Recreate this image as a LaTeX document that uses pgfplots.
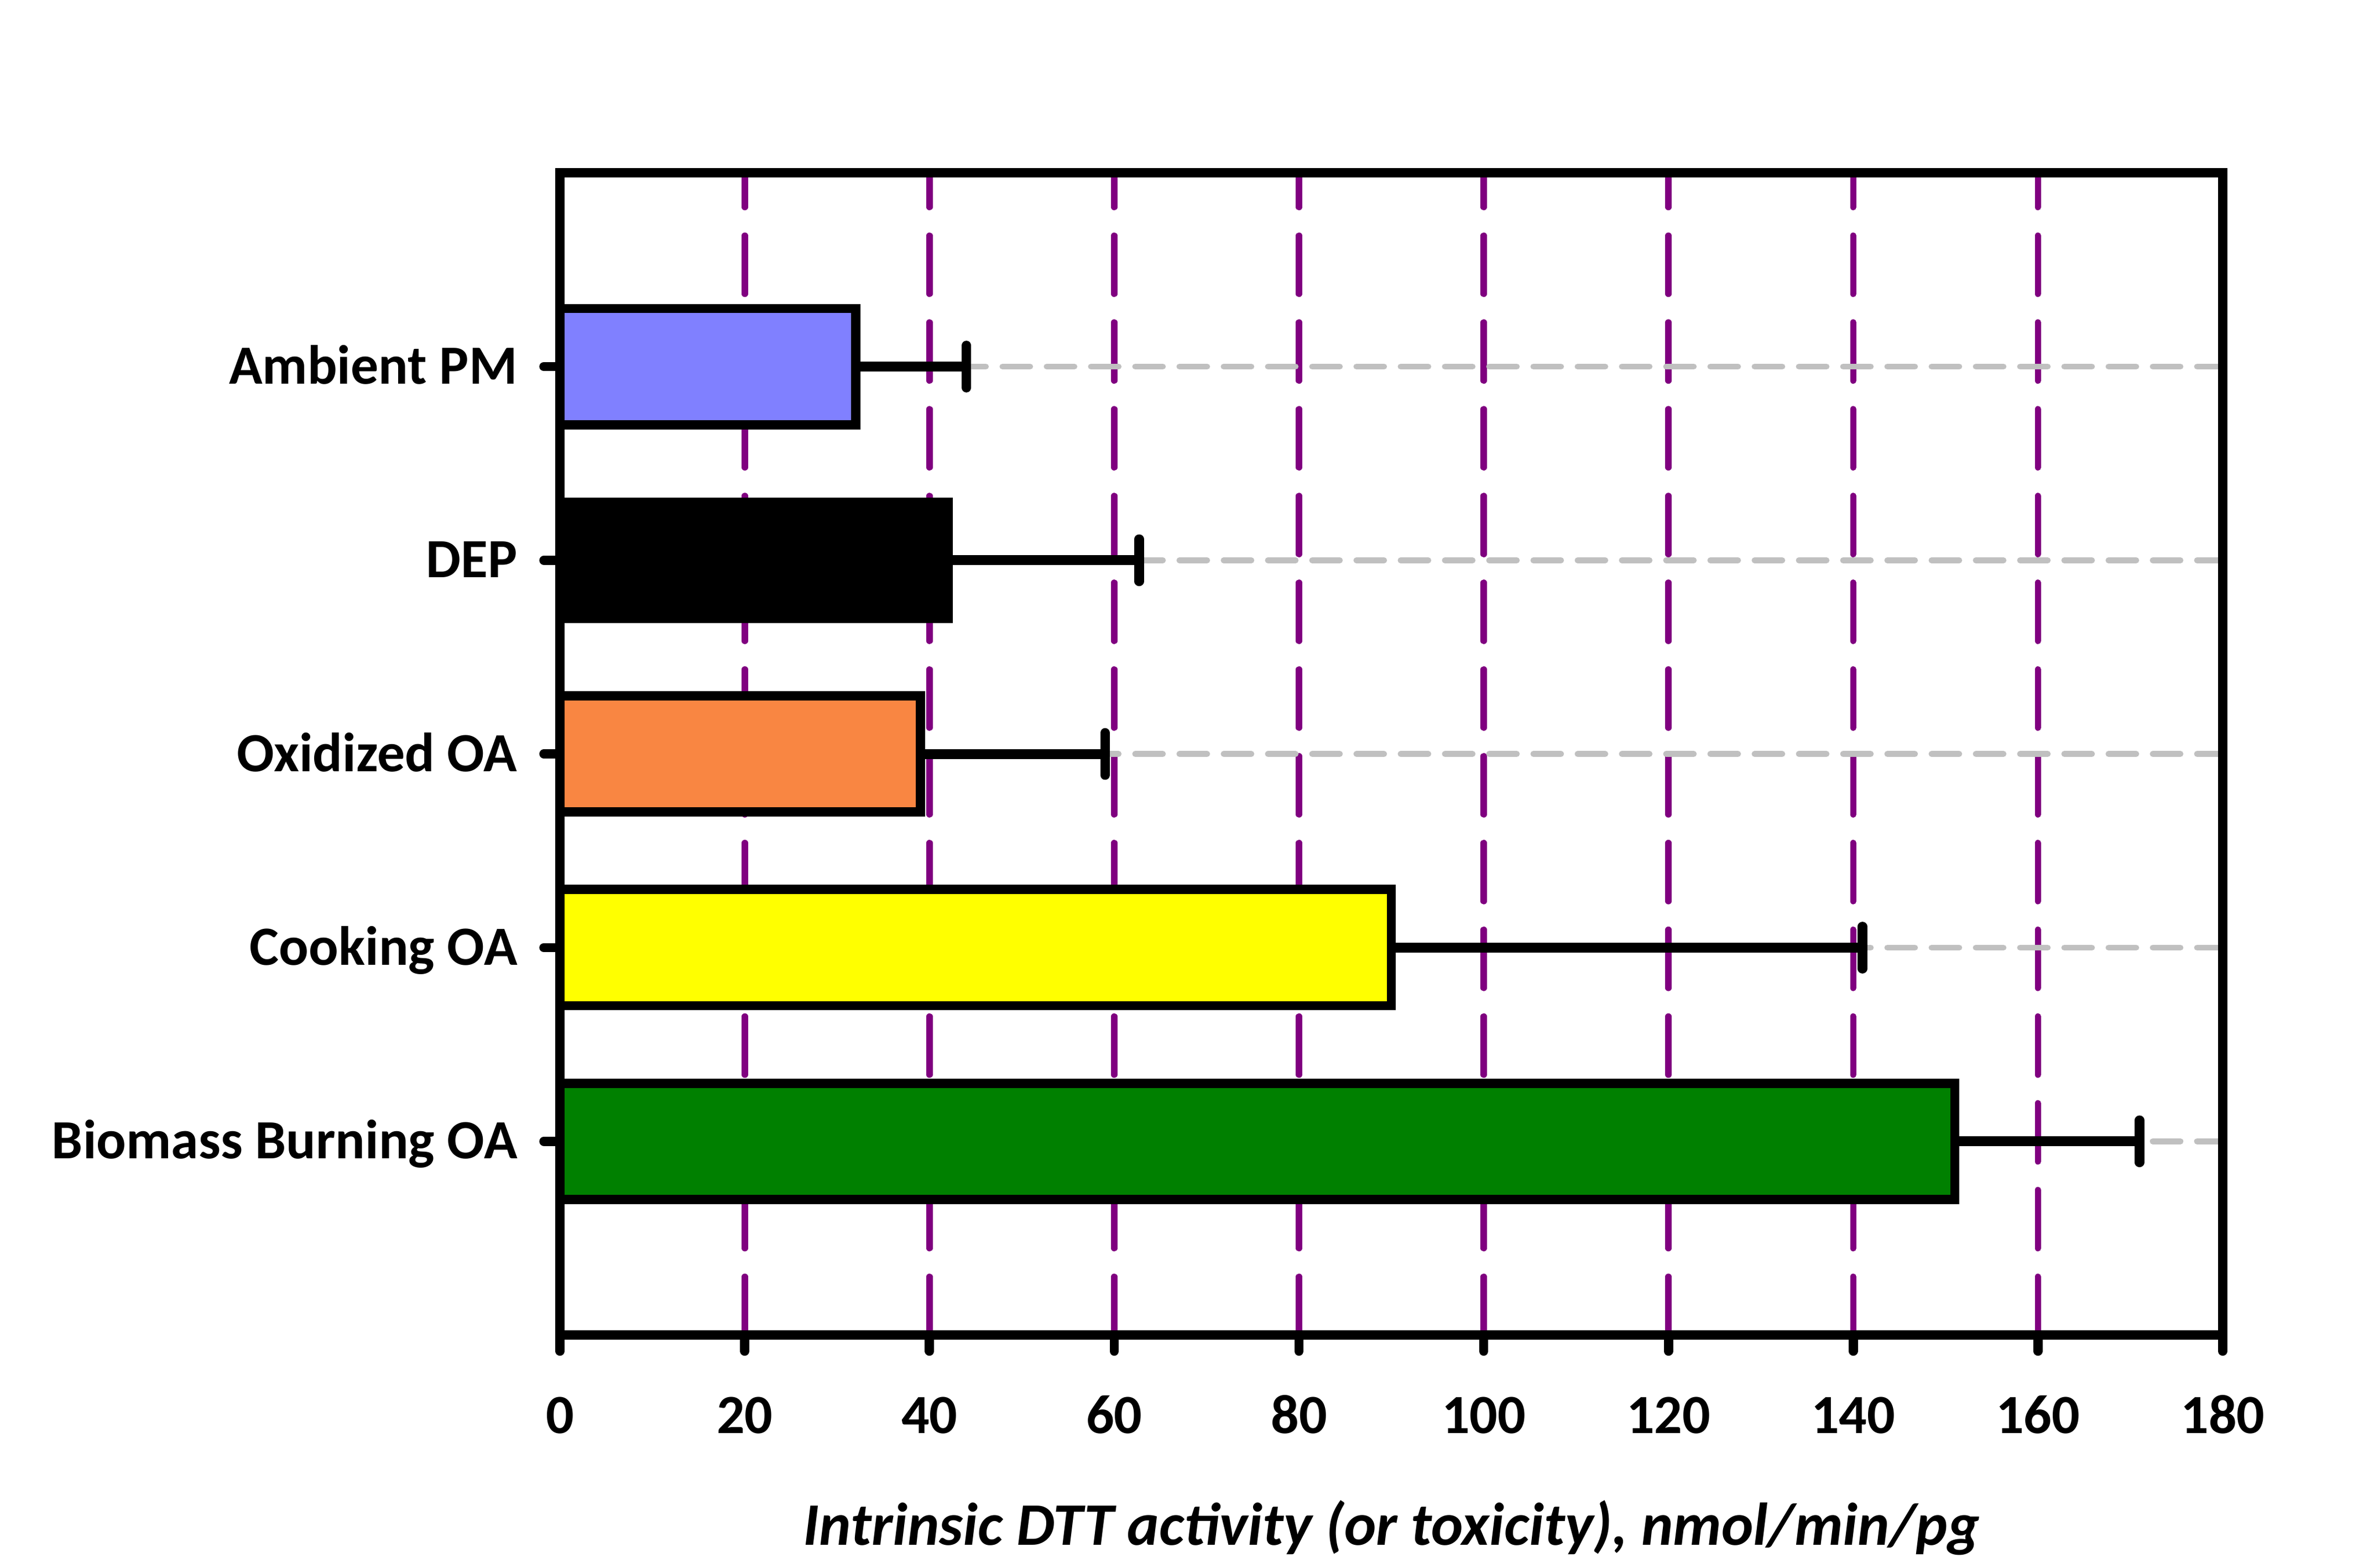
\documentclass[border=0pt]{standalone}
\usepackage{pgfplots}
\pgfplotsset{compat=1.18}
\usepackage{fontspec}
\setmainfont{Carlito}
\definecolor{ambient}{RGB}{128,128,255}
\definecolor{oxid}{RGB}{249,134,66}
\definecolor{cook}{RGB}{255,255,0}
\definecolor{bbgreen}{RGB}{0,128,0}
\definecolor{gridpurple}{RGB}{128,0,128}
\definecolor{gridgray}{RGB}{192,192,192}
\begin{document}
\begin{tikzpicture}
\begin{axis}[
  name=ax,
  scale only axis,
  width=330.7pt, height=231.2pt,
  xmin=0, xmax=180, ymin=0, ymax=6,
  xbar, bar width=0.6,
  axis line style={line width=1.85pt, black},
  tick style={line width=1.85pt, black, line cap=round},
  major tick length=3.2pt,
  tick align=outside,
  xtick pos=bottom, ytick pos=left,
  xtick={0,20,40,60,80,100,120,140,160,180},
  xticklabels={0,20,40,60,80,100,120,140,160,180},
  ytick={1,2,3,4,5},
  yticklabels={Biomass Burning OA,Cooking OA,Oxidized OA,DEP,Ambient PM},
  xmajorgrids, ymajorgrids,
  x grid style={gridpurple, line width=1.25pt, line cap=round, dash pattern=on 11.6pt off 5.66pt},
  y grid style={gridgray, line width=1.18pt, line cap=round, dash pattern=on 5.5pt off 3.3pt},
  xticklabel style={font=\fontsize{11}{13}\selectfont\bfseries, anchor=base, yshift=-16.35pt},
  yticklabel style={font=\fontsize{11}{13}\selectfont\bfseries, anchor=base east, inner sep=0pt, xshift=-5.1pt, yshift=-3.47pt},
  xlabel={Intrinsic DTT activity (or toxicity), nmol/min/pg},
  xlabel style={font=\fontsize{12}{14}\selectfont\bfseries\itshape, at={(axis description cs:0.5,0)}, anchor=base, inner sep=0pt, yshift=-41.8pt},
]
\pgfplotsset{my err/.style={error bars/.cd, x dir=plus, x explicit, error mark=|,
   error bar style={line width=2pt, black},
   error mark options={line width=1.9pt, mark size=4.2pt, black, line cap=round}}}
\addplot[fill=ambient, draw=black, line width=1.85pt, bar shift=0pt, my err] coordinates {(32,5) +- (12,0)};
\addplot[fill=black, draw=black, line width=1.85pt, bar shift=0pt, my err] coordinates {(42,4) +- (20.7,0)};
\addplot[fill=oxid, draw=black, line width=1.85pt, bar shift=0pt, my err] coordinates {(39,3) +- (20,0)};
\addplot[fill=cook, draw=black, line width=1.85pt, bar shift=0pt, my err] coordinates {(90,2) +- (51,0)};
\addplot[fill=bbgreen, draw=black, line width=1.85pt, bar shift=0pt, my err] coordinates {(151,1) +- (20,0)};
\end{axis}
\pgfresetboundingbox
\path[use as bounding box] ([shift={(-111.4pt,-46.3pt)}]ax.south west) rectangle ([shift={(30.1pt,34.4pt)}]ax.north east);
\end{tikzpicture}
\end{document}
